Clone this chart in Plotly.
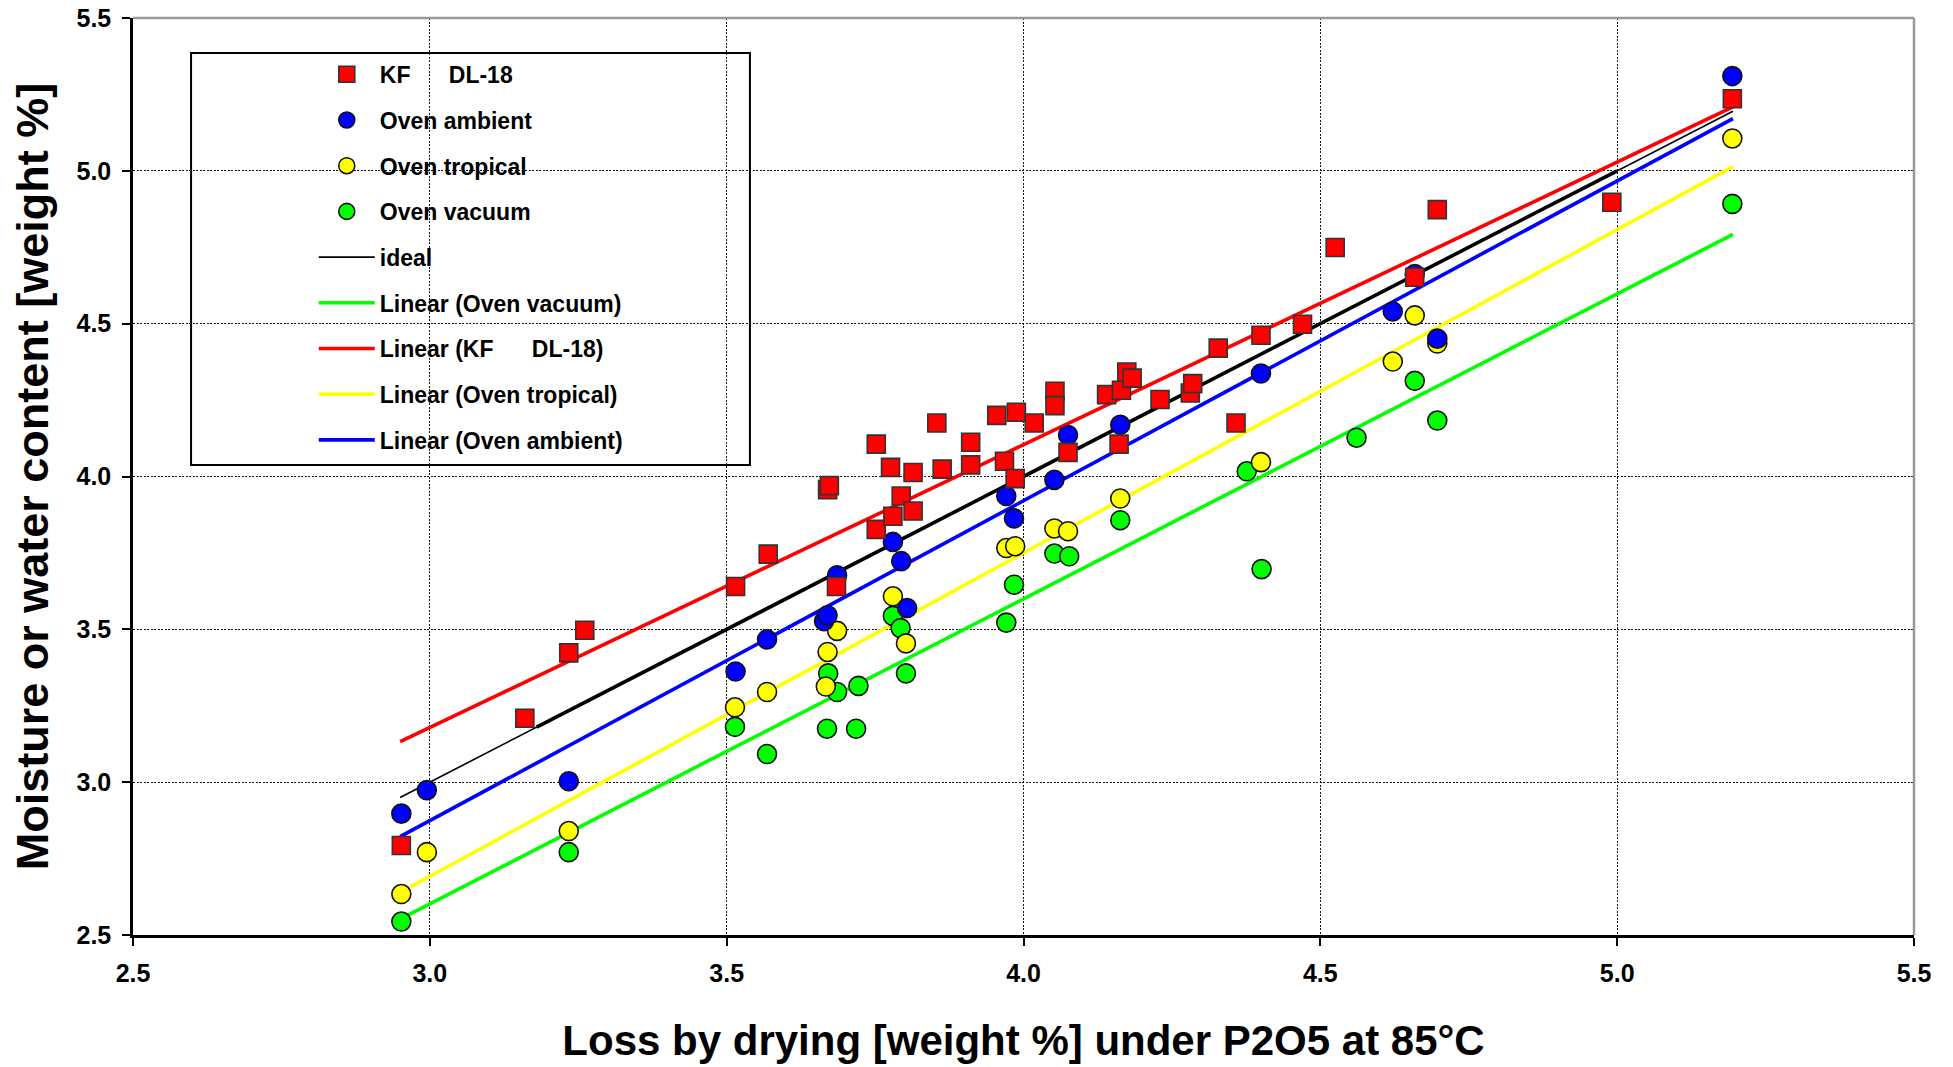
import plotly.graph_objects as go

# ---------------- data ----------------
kf_x = [2.952, 3.160, 3.234, 3.261, 3.515, 3.570, 3.670, 3.673, 3.685, 3.752, 3.752, 3.776, 3.780,
        3.794, 3.814, 3.814, 3.854, 3.863, 3.911, 3.911, 3.955, 3.968, 3.986, 3.988, 4.018, 4.053,
        4.053, 4.075, 4.140, 4.161, 4.165, 4.174, 4.183, 4.230, 4.281, 4.285, 4.328, 4.358, 4.400,
        4.470, 4.525, 4.659, 4.697, 4.991, 5.194]
kf_y = [2.793, 3.209, 3.423, 3.497, 3.640, 3.746, 3.957, 3.970, 3.640, 4.106, 3.827, 4.030, 3.870,
        3.936, 4.013, 3.887, 4.175, 4.024, 4.112, 4.038, 4.200, 4.050, 3.993, 4.210, 4.175, 4.279,
        4.232, 4.079, 4.268, 4.106, 4.282, 4.342, 4.322, 4.252, 4.273, 4.304, 4.420, 4.175, 4.462,
        4.498, 4.749, 4.652, 4.873, 4.897, 5.236]

amb_x = [2.952, 2.995, 3.234, 3.515, 3.568, 3.664, 3.670, 3.686, 3.780, 3.794, 3.804, 3.971, 3.984,
         4.052, 4.075, 4.163, 4.400, 4.622, 4.659, 4.697, 5.194]
amb_y = [2.897, 2.974, 3.003, 3.362, 3.467, 3.527, 3.546, 3.677, 3.786, 3.723, 3.570, 3.936, 3.863,
         3.989, 4.136, 4.169, 4.337, 4.540, 4.662, 4.451, 5.310]

trop_x = [2.952, 2.995, 3.234, 3.514, 3.568, 3.667, 3.670, 3.686, 3.780, 3.802, 3.971, 3.986, 4.052,
          4.075, 4.163, 4.400, 4.622, 4.659, 4.697, 5.194]
trop_y = [2.634, 2.771, 2.840, 3.245, 3.295, 3.313, 3.426, 3.495, 3.608, 3.454, 3.766, 3.772, 3.830,
          3.821, 3.928, 4.047, 4.376, 4.527, 4.435, 5.106]

vac_x = [2.952, 3.234, 3.514, 3.568, 3.669, 3.671, 3.686, 3.718, 3.722, 3.780, 3.793, 3.802, 3.971,
         3.984, 4.052, 4.077, 4.163, 4.376, 4.401, 4.561, 4.659, 4.697, 5.194]
vac_y = [2.544, 2.771, 3.181, 3.092, 3.175, 3.356, 3.295, 3.175, 3.315, 3.544, 3.504, 3.356, 3.522,
         3.646, 3.748, 3.739, 3.857, 4.017, 3.697, 4.127, 4.313, 4.183, 4.892]

# trend lines (end points)
trend_x = [2.95, 5.195]
trend_kf = [3.133, 5.209]
trend_amb = [2.822, 5.171]
trend_trop = [2.639, 5.014]
trend_vac = [2.552, 4.792]
ideal_x = [2.95, 5.195]
ideal_y = [2.95, 5.195]
ideal_mid_x = [3.18, 5.0]
ideal_mid_y = [3.18, 5.0]

ticks = [2.5, 3.0, 3.5, 4.0, 4.5, 5.0, 5.5]
tick_text = ["2.5", "3.0", "3.5", "4.0", "4.5", "5.0", "5.5"]

RED, BLUE, YEL, GRN = "#FF0000", "#0000FF", "#FFFF00", "#00FF00"
FONT = "Liberation Sans, Arial, sans-serif"

fig = go.Figure()

# lines first (drawn beneath the markers), legend order set by legendrank
fig.add_trace(go.Scatter(x=ideal_x, y=ideal_y, mode="lines", name="ideal",
                         line=dict(color="black", width=1.6), legendrank=5, legendgroup="g5"))
fig.add_trace(go.Scatter(x=ideal_mid_x, y=ideal_mid_y, mode="lines", showlegend=False,
                         line=dict(color="black", width=3.6), hoverinfo="skip"))
fig.add_trace(go.Scatter(x=trend_x, y=trend_vac, mode="lines", name="Linear (Oven vacuum)",
                         line=dict(color=GRN, width=3.6), legendrank=6, legendgroup="g6"))
fig.add_trace(go.Scatter(x=trend_x, y=trend_kf, mode="lines",
                         name="Linear (KF\u00a0\u00a0\u00a0\u00a0\u00a0 DL-18)",
                         line=dict(color=RED, width=3.6), legendrank=7, legendgroup="g7"))
fig.add_trace(go.Scatter(x=trend_x, y=trend_trop, mode="lines", name="Linear (Oven tropical)",
                         line=dict(color=YEL, width=3.6), legendrank=8, legendgroup="g8"))
fig.add_trace(go.Scatter(x=trend_x, y=trend_amb, mode="lines", name="Linear (Oven ambient)",
                         line=dict(color=BLUE, width=3.6), legendrank=9, legendgroup="g9"))

mk = dict(size=19, line=dict(color="#111", width=1.6))
fig.add_trace(go.Scatter(x=vac_x, y=vac_y, mode="markers", name="Oven vacuum",
                         marker=dict(symbol="circle", color=GRN, **mk), legendrank=4, legendgroup="g4"))
fig.add_trace(go.Scatter(x=trop_x, y=trop_y, mode="markers", name="Oven tropical",
                         marker=dict(symbol="circle", color=YEL, **mk), legendrank=3, legendgroup="g3"))
fig.add_trace(go.Scatter(x=amb_x, y=amb_y, mode="markers", name="Oven ambient",
                         marker=dict(symbol="circle", color=BLUE, **mk), legendrank=2, legendgroup="g2"))
fig.add_trace(go.Scatter(x=kf_x, y=kf_y, mode="markers", name="KF\u00a0\u00a0\u00a0\u00a0\u00a0 DL-18",
                         marker=dict(symbol="square", color=RED, size=18, line=dict(color="#333", width=1.6)),
                         legendrank=1, legendgroup="g1"))

axis_common = dict(
    range=[2.5, 5.5], tickvals=ticks, ticktext=tick_text,
    showgrid=True, gridcolor="#111", griddash="2px,1.5px", gridwidth=1.2,
    showline=True, linecolor="black", linewidth=2.5, mirror=False,
    ticks="outside", ticklen=8, tickwidth=1.5, tickcolor="black",
    tickfont=dict(family=FONT, size=25, color="black", weight="bold"),
    zeroline=False, automargin=False,
)

fig.update_layout(
    width=1953, height=1067,
    paper_bgcolor="white", plot_bgcolor="white",
    margin=dict(l=133, r=39, t=18, b=132),
    xaxis=dict(**axis_common, ticklabelstandoff=6,
               title=dict(text="Loss by drying [weight %] under P2O5 at 85°C", standoff=40,
                          font=dict(family=FONT, size=42, color="black", weight="bold"))),
    yaxis=dict(**axis_common, ticklabelstandoff=6,
               title=dict(text="Moisture or water content [weight %]", standoff=14,
                          font=dict(family=FONT, size=45, color="black", weight="bold"))),
    legend=dict(x=0.1015, y=0.962, xanchor="left", yanchor="top",
                bgcolor="rgba(0,0,0,0)", borderwidth=0,
                font=dict(family=FONT, size=23, color="black", weight="bold"),
                tracegroupgap=12.8, itemwidth=56),
    shapes=[
        # legend frame
        dict(type="rect", xref="paper", yref="paper", x0=0.0326, x1=0.3464, y0=0.5125, y1=0.9618,
             line=dict(color="black", width=2), fillcolor="white", layer="below"),
        # top and right plot borders (grey)
        dict(type="line", xref="paper", yref="paper", x0=0, x1=1, y0=1, y1=1,
             line=dict(color="#999", width=2.5)),
        dict(type="line", xref="paper", yref="paper", x0=1, x1=1, y0=0, y1=1,
             line=dict(color="#999", width=2.5)),
    ],
)

fig.write_html("out.html")
